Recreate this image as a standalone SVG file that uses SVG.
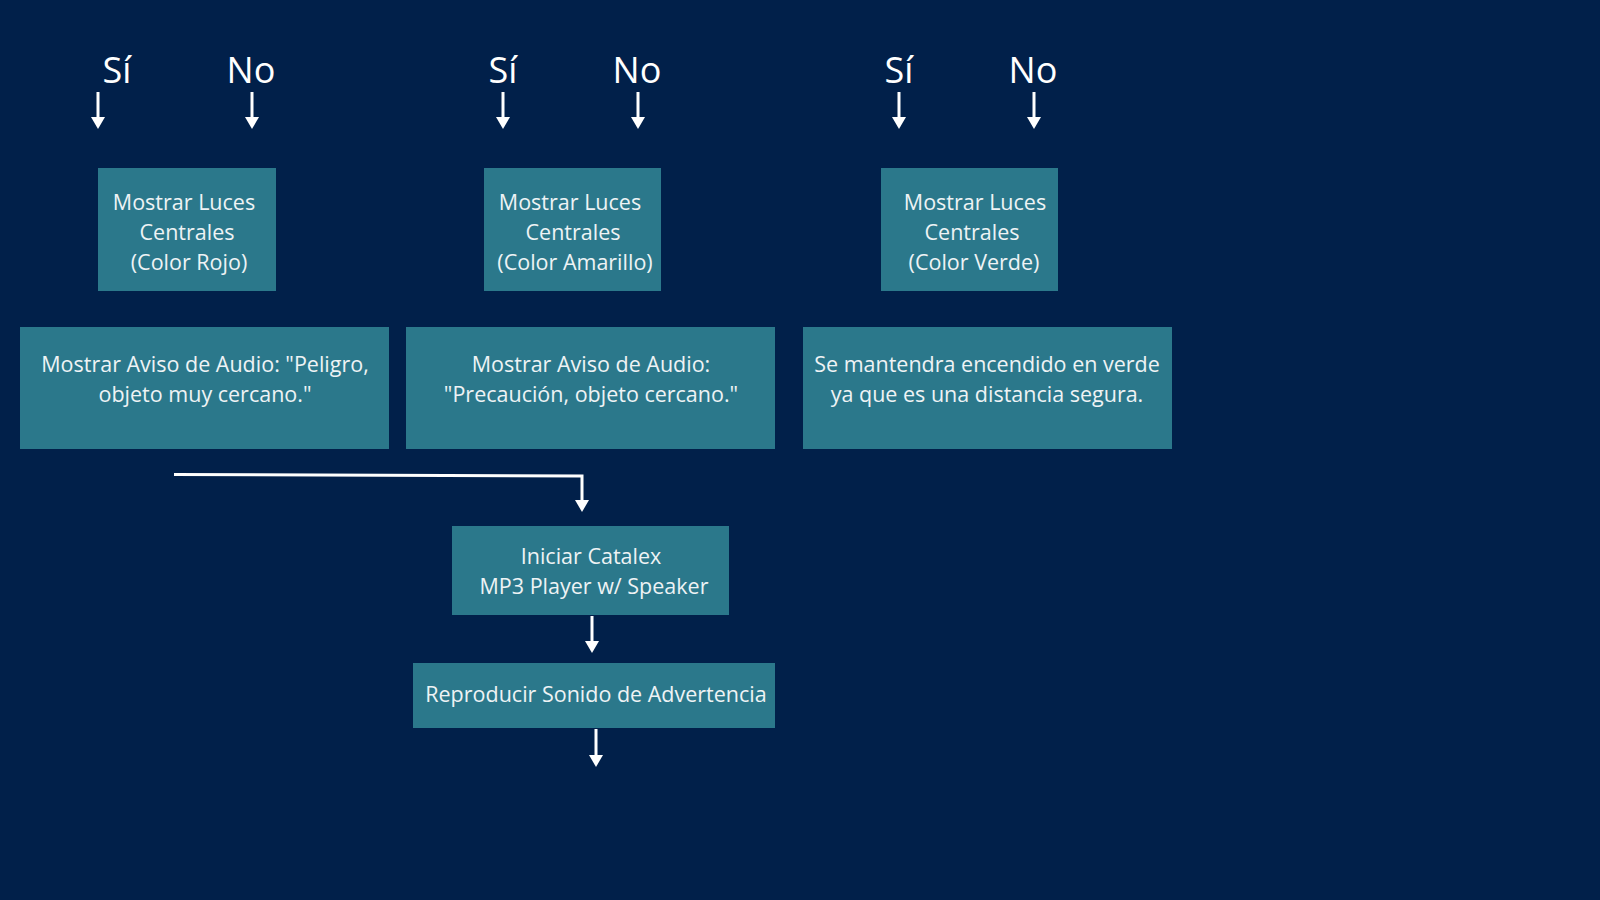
<svg xmlns="http://www.w3.org/2000/svg" width="1600" height="900" viewBox="0 0 1600 900">
<defs>
<style>
.bg{fill:#01204a}
.box{fill:#2b788b}
.t{font-family:"Open Sans","Liberation Sans",sans-serif;font-size:21.5px;fill:#eef3f5;text-anchor:middle}
.lbl{font-family:"Open Sans","Liberation Sans",sans-serif;font-size:36px;fill:#ffffff;text-anchor:middle}
.c{stroke:#ffffff;stroke-width:3;fill:none}
</style>
<marker id="ah" markerUnits="userSpaceOnUse" viewBox="0 -8 13 16" markerWidth="13" markerHeight="16" refX="5" refY="0" orient="auto">
<path d="M0,-7 L12,0 L0,7 z" fill="#ffffff"/>
</marker>
</defs>
<rect class="bg" x="0" y="0" width="1600" height="900"/>

<g id="labels">
<text class="lbl" x="117" y="83">Sí</text>
<text class="lbl" x="251" y="83">No</text>
<text class="lbl" x="503" y="83">Sí</text>
<text class="lbl" x="637" y="83">No</text>
<text class="lbl" x="899" y="83">Sí</text>
<text class="lbl" x="1033" y="83">No</text>
</g>

<g id="connectors">
<line class="c" x1="98" y1="92" x2="98" y2="122" marker-end="url(#ah)"/>
<line class="c" x1="252" y1="92" x2="252" y2="122" marker-end="url(#ah)"/>
<line class="c" x1="503" y1="92" x2="503" y2="122" marker-end="url(#ah)"/>
<line class="c" x1="638" y1="92" x2="638" y2="122" marker-end="url(#ah)"/>
<line class="c" x1="899" y1="92" x2="899" y2="122" marker-end="url(#ah)"/>
<line class="c" x1="1034" y1="92" x2="1034" y2="122" marker-end="url(#ah)"/>
<path class="c" d="M174,474.5 L582,476 L582,505" marker-end="url(#ah)"/>
<line class="c" x1="592" y1="616" x2="592" y2="646" marker-end="url(#ah)"/>
<line class="c" x1="596" y1="729" x2="596" y2="760" marker-end="url(#ah)"/>
</g>

<g id="luces-rojo">
<rect class="box" x="98" y="168" width="178" height="123"/>
<text class="t" x="184" y="210">Mostrar Luces</text>
<text class="t" x="187" y="240">Centrales</text>
<text class="t" x="189" y="270">(Color Rojo)</text>
</g>
<g id="luces-amarillo">
<rect class="box" x="484" y="168" width="177" height="123"/>
<text class="t" x="570" y="210">Mostrar Luces</text>
<text class="t" x="573" y="240">Centrales</text>
<text class="t" x="575" y="270">(Color Amarillo)</text>
</g>
<g id="luces-verde">
<rect class="box" x="881" y="168" width="177" height="123"/>
<text class="t" x="975" y="210">Mostrar Luces</text>
<text class="t" x="972" y="240">Centrales</text>
<text class="t" x="974" y="270">(Color Verde)</text>
</g>

<g id="aviso-peligro">
<rect class="box" x="20" y="327" width="369" height="122"/>
<text class="t" x="205" y="372">Mostrar Aviso de Audio: "Peligro,</text>
<text class="t" x="205" y="402">objeto muy cercano."</text>
</g>
<g id="aviso-precaucion">
<rect class="box" x="406" y="327" width="369" height="122"/>
<text class="t" x="591" y="372">Mostrar Aviso de Audio:</text>
<text class="t" x="591" y="402">"Precaución, objeto cercano."</text>
</g>
<g id="verde-segura">
<rect class="box" x="803" y="327" width="369" height="122"/>
<text class="t" x="987" y="372">Se mantendra encendido en verde</text>
<text class="t" x="987" y="402">ya que es una distancia segura.</text>
</g>

<g id="catalex">
<rect class="box" x="452" y="526" width="277" height="89"/>
<text class="t" x="591" y="564">Iniciar Catalex</text>
<text class="t" x="594" y="594">MP3 Player w/ Speaker</text>
</g>
<g id="reproducir">
<rect class="box" x="413" y="663" width="362" height="65"/>
<text class="t" x="596" y="702">Reproducir Sonido de Advertencia</text>
</g>
</svg>
